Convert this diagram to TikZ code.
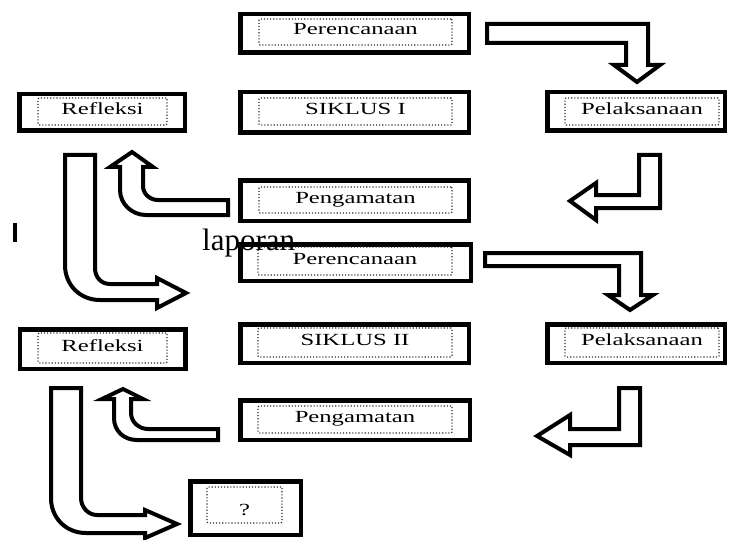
\documentclass[tikz,border=0pt]{standalone}
\usepackage{fontspec}
\setmainfont{Liberation Serif}
\usepackage{graphicx}
\newcommand{\stretched}[1]{\scalebox{1.45}[1]{#1}}

\begin{document}
\begin{tikzpicture}[x=1pt, y=-1pt,
	frame/.style={draw=black, line width=4.5pt, fill=white, inner sep=0pt},
	dotbox/.style={draw=black!85, dotted, line width=1.1pt, rounded corners=1pt, inner sep=0pt,
		text height=11pt, text depth=5pt, font=\fontsize{17}{19}\selectfont},
	bigarrow/.style={draw=black, line width=4pt, fill=white, line join=miter}]
	\useasboundingbox (0,0) rectangle (730,540);

	% siklus I
	\node[frame, minimum width=228.5, minimum height=38.5] (plan1) at (354.5,33.5) {};
	\node[dotbox, minimum width=193, minimum height=26] (plan1in) at (355.5,32) {\stretched{Perencanaan}};
	\node[frame, minimum width=228.5, minimum height=40.5] (cycle1) at (354.5,112.5) {};
	\node[dotbox, minimum width=193, minimum height=27] (cycle1in) at (355.5,111.5) {\stretched{SIKLUS I}};
	\node[frame, minimum width=165.5, minimum height=36.5] (refl1) at (102,112.5) {};
	\node[dotbox, minimum width=129, minimum height=27] (refl1in) at (102.5,111.5) {\stretched{Refleksi}};
	\node[frame, minimum width=177.5, minimum height=38.5] (impl1) at (636,111.5) {};
	\node[dotbox, minimum width=154, minimum height=27] (impl1in) at (642,111.5) {\stretched{Pelaksanaan}};
	\node[frame, minimum width=228.5, minimum height=40.5] (obs1) at (354.5,200.5) {};
	\node[dotbox, minimum width=193, minimum height=26] (obs1in) at (355.5,200) {\stretched{Pengamatan}};

	% siklus II
	\node[frame, minimum width=230.5, minimum height=36.5] (plan2) at (355.5,262.5) {};
	\node[dotbox, minimum width=194, minimum height=28] (plan2in) at (355,261) {\stretched{Perencanaan}};
	\node[frame, minimum width=228.5, minimum height=38.5] (cycle2) at (354.5,343.5) {};
	\node[dotbox, minimum width=194, minimum height=29] (cycle2in) at (355,342.5) {\stretched{SIKLUS II}};
	\node[frame, minimum width=165.5, minimum height=39.5] (refl2) at (102.5,349) {};
	\node[dotbox, minimum width=129, minimum height=30] (refl2in) at (102.5,348) {\stretched{Refleksi}};
	\node[frame, minimum width=177.5, minimum height=38.5] (impl2) at (636,343.5) {};
	\node[dotbox, minimum width=154, minimum height=29] (impl2in) at (642,342.5) {\stretched{Pelaksanaan}};
	\node[frame, minimum width=229.5, minimum height=39.5] (obs2) at (355,420) {};
	\node[dotbox, minimum width=194, minimum height=27] (obs2in) at (355,419.5) {\stretched{Pengamatan}};
	\node[frame, minimum width=110.5, minimum height=53.5] (next) at (245.5,508) {};
	\node[dotbox, minimum width=75, minimum height=36] (nextin) at (244.5,505) {\raisebox{-7pt}{\stretched{?}}};

	% panah siklus I
	\draw[bigarrow] (487,24) -- (648,24) -- (648,65) -- (660,65) -- (637,82) -- (614,65) -- (626,65) -- (626,43) -- (487,43) -- cycle;
	\draw[bigarrow] (639,155) -- (660,155) -- (660,208) -- (596,208) -- (596,220) -- (570,201) -- (596,183) -- (596,195) -- (639,195) -- cycle;
	\draw[bigarrow] (228,200) -- (158,200) .. controls (150,200) and (143,194) .. (143,186) -- (143,167) -- (153,167) -- (132,152) -- (110,167) -- (120,167) -- (120,190) .. controls (120,204) and (132,215) .. (146,215) -- (228,215) -- cycle;
	\draw[bigarrow] (65,155) -- (95,155) -- (95,268) .. controls (95,277) and (101,284) .. (110,284) -- (157,284) -- (157,278) -- (186,293) -- (157,308) -- (157,300) -- (100,300) .. controls (80,300) and (65,285) .. (65,265) -- cycle;

	% panah siklus II
	\draw[bigarrow] (485,253) -- (641,253) -- (641,295) -- (653,295) -- (630,310) -- (608,295) -- (619,295) -- (619,266) -- (485,266) -- cycle;
	\draw[bigarrow] (619,388) -- (640,388) -- (640,445) -- (570,445) -- (570,455) -- (537,436) -- (570,415) -- (570,429) -- (619,429) -- cycle;
	\draw[bigarrow] (218,429) -- (148,429) .. controls (139,429) and (131,422) .. (131,413) -- (131,399) -- (143,399) -- (123,389) -- (102,399) -- (114,399) -- (114,418) .. controls (114,431) and (124,440) .. (137,440) -- (218,440) -- cycle;
	\draw[bigarrow] (51,388) -- (81,388) -- (81,498) .. controls (81,507) and (88,515) .. (97,515) -- (145,515) -- (145,510) -- (177,524) -- (145,538) -- (145,533) -- (86,533) .. controls (66,533) and (51,518) .. (51,498) -- cycle;

	\fill (13,223) rectangle (17,242);
	\node[anchor=base west, inner sep=0pt, font=\fontsize{31}{34}\selectfont] (report) at (202,250) {laporan};
\end{tikzpicture}
\end{document}
